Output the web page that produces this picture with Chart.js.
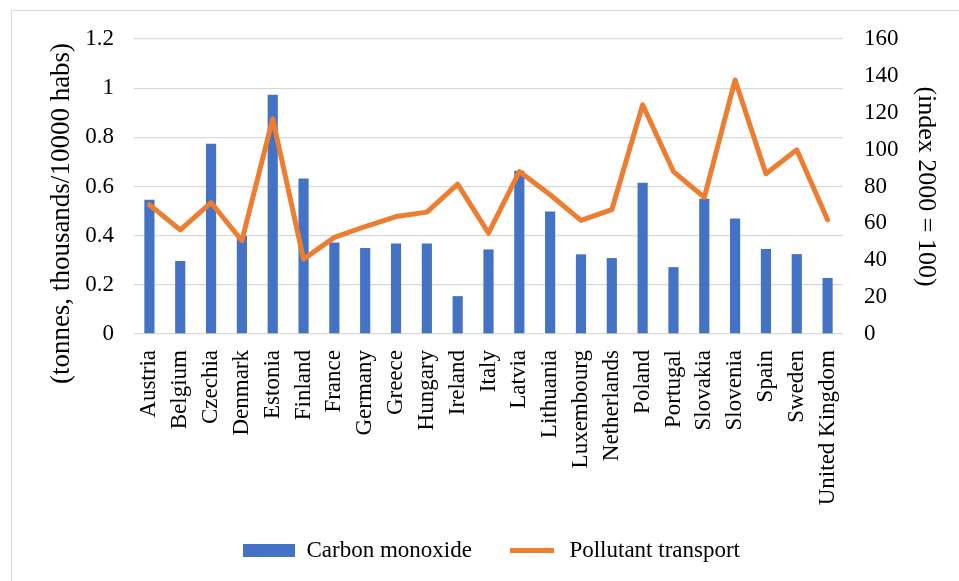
<!DOCTYPE html>
<html>
<head>
<meta charset="utf-8">
<script src="https://cdn.jsdelivr.net/npm/chart.js@4.4.0/dist/chart.umd.min.js"></script>
<style>
  html, body { margin: 0; padding: 0; background: #fff; }
  #wrap { position: relative; width: 959px; height: 581px; overflow: hidden; }
  #frame { position: absolute; left: 11px; top: 10px; width: 1000px; height: 1000px; border: 1px solid #d9d9d9; }
  #chart { position: absolute; left: 0; top: 0; }
</style>
</head>
<body>
<div id="wrap">
  <div id="frame"></div>
  <canvas id="chart" width="959" height="581"></canvas>
</div>
<script>
const countries = ["Austria", "Belgium", "Czechia", "Denmark", "Estonia", "Finland", "France",
    "Germany", "Greece", "Hungary", "Ireland", "Italy", "Latvia", "Lithuania", "Luxembourg",
    "Netherlands", "Poland", "Portugal", "Slovakia", "Slovenia", "Spain", "Sweden", "United Kingdom"];

// left axis, tonnes thousands / 10000 habs
const carbonMonoxide = [0.546, 0.297, 0.774, 0.40, 0.973, 0.633, 0.372, 0.35, 0.368, 0.368, 0.154,
    0.344, 0.664, 0.498, 0.324, 0.309, 0.615, 0.272, 0.55, 0.47, 0.346, 0.325, 0.228];

// right axis, index 2000 = 100
const pollutantTransport = [70.1, 56.5, 71.3, 50.6, 116.7, 40.6, 52.4, 58.3, 63.7, 66.1, 81.3,
    54.7, 88.1, 75.5, 61.6, 67.4, 124.3, 88.1, 74.1, 137.8, 86.9, 99.9, 62];

const leftTicks = [0, 0.2, 0.4, 0.6, 0.8, 1, 1.2];
const rightTicks = [0, 20, 40, 60, 80, 100, 120, 140, 160];

const blue = '#4472C4';
const orange = '#ED7D31';
const gridColor = '#d9d9d9';
const serif = "'Liberation Serif', 'Times New Roman', serif";

const padLeft = 24;
const padBottom = 9;
const plotLeft = 134;
const plotRight = 843;
const plotBottom = 334;

const ctx = document.getElementById('chart').getContext('2d');

new Chart(ctx, {
    data: {
        labels: countries,
        datasets: [
            {
                type: 'line',
                label: 'Pollutant transport',
                data: pollutantTransport,
                yAxisID: 'y1',
                borderColor: orange,
                backgroundColor: orange,
                borderWidth: 5,
                borderJoinStyle: 'round',
                borderCapStyle: 'round',
                pointRadius: 0,
                tension: 0,
                order: 1
            },
            {
                type: 'bar',
                label: 'Carbon monoxide',
                data: carbonMonoxide,
                yAxisID: 'y',
                backgroundColor: blue,
                borderWidth: 0,
                categoryPercentage: 1,
                barPercentage: 0.33,
                order: 2
            }
        ]
    },
    options: {
        responsive: false,
        animation: false,
        layout: {
            padding: { left: padLeft, right: 0, top: 39, bottom: padBottom }
        },
        plugins: {
            tooltip: { enabled: false },
            legend: {
                position: 'bottom',
                labels: {
                    boxWidth: 52,
                    boxHeight: 13,
                    padding: 34,
                    color: '#000',
                    font: { family: serif, size: 23 },
                    generateLabels: () => [
                        { text: 'Carbon monoxide', fillStyle: blue, strokeStyle: blue, lineWidth: 0, datasetIndex: 1 },
                        // white stroke trims the box down to a thin line
                        { text: 'Pollutant transport', fillStyle: orange, strokeStyle: '#fff', lineWidth: 8, datasetIndex: 0 }
                    ]
                }
            }
        },
        scales: {
            x: {
                grid: { display: false },
                border: { display: false },
                ticks: {
                    autoSkip: false,
                    maxRotation: 90,
                    minRotation: 90,
                    padding: 8,
                    color: '#000',
                    font: { family: serif, size: 23 }
                },
                afterFit: (s) => {
                    s.height = 581 - plotBottom - padBottom - s.chart.legend.height;
                }
            },
            y: {
                position: 'left',
                min: 0,
                max: 1.2,
                afterBuildTicks: (s) => { s.ticks = leftTicks.map(v => ({ value: v })); },
                grid: { color: gridColor, lineWidth: 1.3, drawTicks: false },
                border: { display: false },
                ticks: {
                    padding: 20,
                    color: '#000',
                    font: { family: serif, size: 23 },
                    callback: (v) => String(Math.round(v * 10) / 10)
                },
                title: {
                    display: true,
                    // trailing spaces push the text a little lower, as in the original
                    text: '(tonnes, thousands/10000 habs)' + ' '.repeat(8),
                    color: '#000',
                    font: { family: serif, size: 27 },
                    padding: { top: 22, bottom: 0 }
                },
                afterFit: (s) => { s.width = plotLeft - padLeft; }
            },
            y1: {
                position: 'right',
                min: 0,
                max: 160,
                afterBuildTicks: (s) => { s.ticks = rightTicks.map(v => ({ value: v })); },
                grid: { drawOnChartArea: false, drawTicks: false },
                border: { display: false },
                ticks: {
                    padding: 21,
                    color: '#000',
                    font: { family: serif, size: 23 }
                },
                title: {
                    display: true,
                    text: '(index 2000 = 100)',
                    color: '#000',
                    font: { family: serif, size: 26 },
                    padding: { top: 18, bottom: 0 }
                },
                afterFit: (s) => { s.width = 959 - plotRight; }
            }
        }
    }
});
</script>
</body>
</html>
